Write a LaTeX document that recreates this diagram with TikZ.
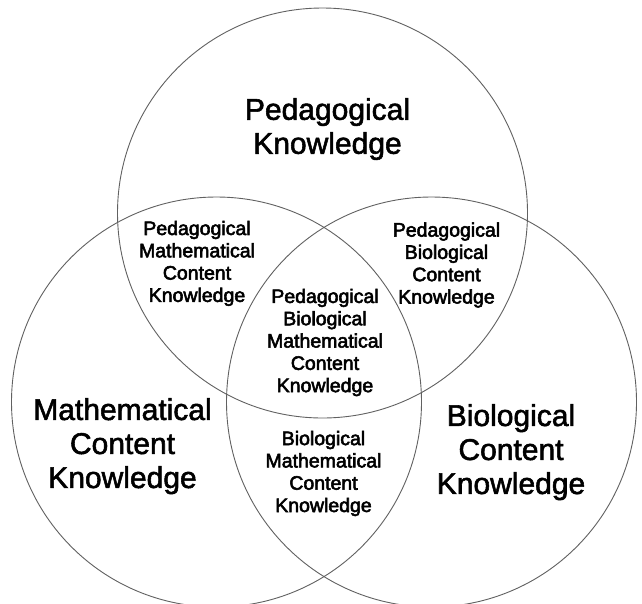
\documentclass[tikz,border=0pt]{standalone}
\usepackage{fontspec}
\setmainfont{Liberation Sans}
\newcommand\hv[1]{\special{pdf:literal direct 2 Tr 0.55 w}#1\special{pdf:literal direct 0 Tr}}
\begin{document}
\begin{tikzpicture}[x=1pt,y=-1pt,
  ring/.style={draw=black!62, line width=0.9pt},
  biglabel/.style={align=center, inner sep=0pt, font=\fontsize{30}{34}\selectfont},
  smalllabel/.style={align=center, inner sep=0pt, font=\fontsize{19.5}{22.3}\selectfont}]
\useasboundingbox (0,0) rectangle (642,603);
\clip (0,0) rectangle (642,603);
\fill[white] (0,0) rectangle (642,603);
% circles
\node[ring, circle, minimum size=410pt, inner sep=0pt] (ped) at (322.5,213) {};
\node[ring, circle, minimum size=410pt, inner sep=0pt] (mat) at (216.5,402) {};
\node[ring, circle, minimum size=410pt, inner sep=0pt] (bio) at (431.5,402) {};
% labels
\node[biglabel] (pk) at (327.5,129) {\hv{Pedagogical\\Knowledge}};
\node[biglabel] (mck) at (122.5,446.2) {\hv{Mathematical\\Content\\Knowledge}};
\node[biglabel] (bck) at (511,452.2) {\hv{Biological\\Content\\Knowledge}};
\node[smalllabel] (pmck) at (197,263.4) {\hv{Pedagogical\\Mathematical\\Content\\Knowledge}};
\node[smalllabel] (pbck) at (446.5,265) {\hv{Pedagogical\\Biological\\Content\\Knowledge}};
\node[smalllabel] (pbmck) at (325,342.5) {\hv{Pedagogical\\Biological\\Mathematical\\Content\\Knowledge}};
\node[smalllabel] (bmck) at (323.5,473.5) {\hv{Biological\\Mathematical\\Content\\Knowledge}};
\end{tikzpicture}
\end{document}
